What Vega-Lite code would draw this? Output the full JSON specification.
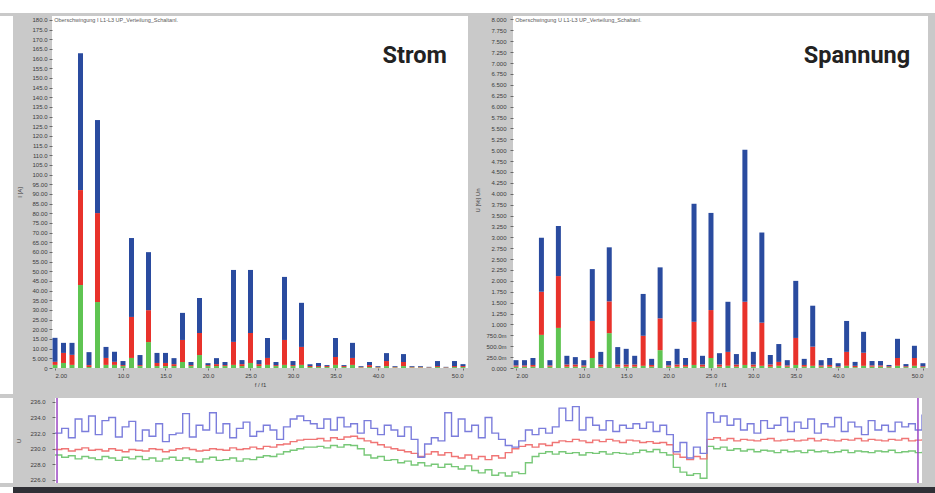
{
  "$schema": "https://vega.github.io/schema/vega-lite/v6.json",
  "background": "#c9c9c9",
  "padding": 0,
  "spacing": 3,
  "resolve": {"scale": {"color": "independent"}},
  "config": {
    "view": {"stroke": null},
    "axis": {
      "labelFont": "Liberation Sans",
      "titleFont": "Liberation Sans",
      "labelColor": "#3c3c3c",
      "titleColor": "#3c3c3c",
      "tickColor": "#6a6a6a",
      "domain": false,
      "grid": false,
      "labelOverlap": false,
      "titleFontWeight": "normal",
      "labelFontSize": 6,
      "titleFontSize": 6
    }
  },
  "datasets": {
    "strom": [
      {"h": 2, "L1": 1.6, "L2": 1.6, "L3": 12.4},
      {"h": 3, "L1": 2.6, "L2": 5.2, "L3": 5.2},
      {"h": 4, "L1": 1.6, "L2": 5.2, "L3": 6.2},
      {"h": 5, "L1": 42.9, "L2": 49.1, "L3": 70.8},
      {"h": 6, "L1": 0.5, "L2": 1.0, "L3": 6.7},
      {"h": 7, "L1": 34.1, "L2": 46.0, "L3": 48.1},
      {"h": 8, "L1": 1.6, "L2": 3.6, "L3": 5.7},
      {"h": 9, "L1": 1.6, "L2": 1.6, "L3": 5.2},
      {"h": 10, "L1": 1.0, "L2": 0.5, "L3": 2.1},
      {"h": 11, "L1": 5.2, "L2": 21.2, "L3": 40.8},
      {"h": 12, "L1": 1.0, "L2": 0.5, "L3": 5.2},
      {"h": 13, "L1": 13.4, "L2": 16.5, "L3": 30.0},
      {"h": 14, "L1": 1.0, "L2": 1.6, "L3": 5.2},
      {"h": 15, "L1": 1.0, "L2": 1.6, "L3": 5.2},
      {"h": 16, "L1": 1.0, "L2": 1.0, "L3": 3.1},
      {"h": 17, "L1": 3.1, "L2": 11.4, "L3": 14.0},
      {"h": 18, "L1": 1.0, "L2": 0.5, "L3": 1.6},
      {"h": 19, "L1": 6.7, "L2": 11.4, "L3": 18.1},
      {"h": 20, "L1": 1.0, "L2": 0.5, "L3": 1.0},
      {"h": 21, "L1": 1.0, "L2": 1.0, "L3": 3.1},
      {"h": 22, "L1": 1.0, "L2": 0.5, "L3": 1.6},
      {"h": 23, "L1": 1.6, "L2": 11.9, "L3": 37.2},
      {"h": 24, "L1": 1.0, "L2": 1.0, "L3": 2.1},
      {"h": 25, "L1": 2.6, "L2": 15.5, "L3": 32.6},
      {"h": 26, "L1": 1.0, "L2": 1.0, "L3": 2.1},
      {"h": 27, "L1": 1.6, "L2": 3.6, "L3": 10.3},
      {"h": 28, "L1": 1.0, "L2": 0.5, "L3": 1.6},
      {"h": 29, "L1": 1.6, "L2": 12.9, "L3": 32.6},
      {"h": 30, "L1": 1.0, "L2": 0.5, "L3": 2.1},
      {"h": 31, "L1": 1.6, "L2": 9.3, "L3": 22.8},
      {"h": 32, "L1": 0.5, "L2": 0.5, "L3": 1.0},
      {"h": 33, "L1": 0.5, "L2": 0.5, "L3": 1.6},
      {"h": 34, "L1": 0.5, "L2": 0.5, "L3": 0.5},
      {"h": 35, "L1": 1.6, "L2": 4.1, "L3": 9.8},
      {"h": 36, "L1": 0.5, "L2": 0.5, "L3": 0.5},
      {"h": 37, "L1": 1.6, "L2": 3.6, "L3": 7.8},
      {"h": 38, "L1": 0.3, "L2": 0.3, "L3": 0.4},
      {"h": 39, "L1": 0.5, "L2": 1.0, "L3": 1.6},
      {"h": 40, "L1": 0.3, "L2": 0.3, "L3": 0.4},
      {"h": 41, "L1": 1.0, "L2": 2.6, "L3": 4.1},
      {"h": 42, "L1": 0.3, "L2": 0.3, "L3": 0.4},
      {"h": 43, "L1": 1.0, "L2": 2.1, "L3": 4.1},
      {"h": 44, "L1": 0.3, "L2": 0.3, "L3": 0.4},
      {"h": 45, "L1": 0.3, "L2": 0.3, "L3": 0.4},
      {"h": 46, "L1": 0.2, "L2": 0.2, "L3": 0.2},
      {"h": 47, "L1": 0.5, "L2": 0.5, "L3": 2.6},
      {"h": 48, "L1": 0.2, "L2": 0.2, "L3": 0.2},
      {"h": 49, "L1": 0.5, "L2": 0.5, "L3": 2.6},
      {"h": 50, "L1": 0.5, "L2": 0.5, "L3": 1.0}
    ],
    "spannung": [
      {"h": 2, "L1": 0.03, "L2": 0.03, "L3": 0.12},
      {"h": 3, "L1": 0.03, "L2": 0.03, "L3": 0.12},
      {"h": 4, "L1": 0.03, "L2": 0.04, "L3": 0.16},
      {"h": 5, "L1": 0.76, "L2": 0.99, "L3": 1.24},
      {"h": 6, "L1": 0.03, "L2": 0.03, "L3": 0.12},
      {"h": 7, "L1": 0.92, "L2": 1.19, "L3": 1.15},
      {"h": 8, "L1": 0.03, "L2": 0.05, "L3": 0.20},
      {"h": 9, "L1": 0.03, "L2": 0.05, "L3": 0.17},
      {"h": 10, "L1": 0.03, "L2": 0.03, "L3": 0.12},
      {"h": 11, "L1": 0.23, "L2": 0.85, "L3": 1.19},
      {"h": 12, "L1": 0.03, "L2": 0.05, "L3": 0.29},
      {"h": 13, "L1": 0.80, "L2": 0.73, "L3": 1.24},
      {"h": 14, "L1": 0.03, "L2": 0.05, "L3": 0.40},
      {"h": 15, "L1": 0.03, "L2": 0.05, "L3": 0.36},
      {"h": 16, "L1": 0.03, "L2": 0.05, "L3": 0.20},
      {"h": 17, "L1": 0.05, "L2": 0.69, "L3": 0.96},
      {"h": 18, "L1": 0.03, "L2": 0.04, "L3": 0.14},
      {"h": 19, "L1": 0.41, "L2": 0.73, "L3": 1.17},
      {"h": 20, "L1": 0.03, "L2": 0.03, "L3": 0.10},
      {"h": 21, "L1": 0.03, "L2": 0.05, "L3": 0.36},
      {"h": 22, "L1": 0.03, "L2": 0.04, "L3": 0.16},
      {"h": 23, "L1": 0.07, "L2": 0.99, "L3": 2.71},
      {"h": 24, "L1": 0.03, "L2": 0.05, "L3": 0.20},
      {"h": 25, "L1": 0.23, "L2": 1.10, "L3": 2.23},
      {"h": 26, "L1": 0.03, "L2": 0.05, "L3": 0.26},
      {"h": 27, "L1": 0.05, "L2": 0.32, "L3": 1.15},
      {"h": 28, "L1": 0.03, "L2": 0.05, "L3": 0.24},
      {"h": 29, "L1": 0.07, "L2": 1.45, "L3": 3.49},
      {"h": 30, "L1": 0.03, "L2": 0.05, "L3": 0.29},
      {"h": 31, "L1": 0.05, "L2": 0.99, "L3": 2.07},
      {"h": 32, "L1": 0.03, "L2": 0.05, "L3": 0.22},
      {"h": 33, "L1": 0.05, "L2": 0.09, "L3": 0.41},
      {"h": 34, "L1": 0.03, "L2": 0.03, "L3": 0.12},
      {"h": 35, "L1": 0.07, "L2": 0.62, "L3": 1.31},
      {"h": 36, "L1": 0.03, "L2": 0.04, "L3": 0.14},
      {"h": 37, "L1": 0.05, "L2": 0.44, "L3": 0.94},
      {"h": 38, "L1": 0.03, "L2": 0.03, "L3": 0.12},
      {"h": 39, "L1": 0.03, "L2": 0.04, "L3": 0.16},
      {"h": 40, "L1": 0.02, "L2": 0.02, "L3": 0.07},
      {"h": 41, "L1": 0.05, "L2": 0.32, "L3": 0.71},
      {"h": 42, "L1": 0.02, "L2": 0.03, "L3": 0.09},
      {"h": 43, "L1": 0.05, "L2": 0.30, "L3": 0.48},
      {"h": 44, "L1": 0.03, "L2": 0.03, "L3": 0.10},
      {"h": 45, "L1": 0.03, "L2": 0.03, "L3": 0.10},
      {"h": 46, "L1": 0.02, "L2": 0.02, "L3": 0.03},
      {"h": 47, "L1": 0.05, "L2": 0.18, "L3": 0.44},
      {"h": 48, "L1": 0.02, "L2": 0.02, "L3": 0.05},
      {"h": 49, "L1": 0.05, "L2": 0.18, "L3": 0.28},
      {"h": 50, "L1": 0.02, "L2": 0.02, "L3": 0.07}
    ],
    "netz": [
      {"t": 0, "L1": 229.2, "L2": 229.9, "L3": 232.0},
      {"t": 1, "L1": 228.9, "L2": 230.0, "L3": 232.6},
      {"t": 2, "L1": 229.1, "L2": 229.7, "L3": 231.4},
      {"t": 3, "L1": 228.7, "L2": 229.9, "L3": 233.8},
      {"t": 4, "L1": 229.0, "L2": 230.1, "L3": 232.2},
      {"t": 5, "L1": 228.8, "L2": 229.8, "L3": 234.2},
      {"t": 6, "L1": 228.6, "L2": 229.9, "L3": 231.8},
      {"t": 7, "L1": 229.0, "L2": 229.7, "L3": 233.6},
      {"t": 8, "L1": 228.8, "L2": 230.0, "L3": 234.0},
      {"t": 9, "L1": 228.5, "L2": 229.8, "L3": 231.5},
      {"t": 10, "L1": 228.9, "L2": 229.6, "L3": 232.8},
      {"t": 11, "L1": 228.7, "L2": 229.9, "L3": 233.5},
      {"t": 12, "L1": 229.0, "L2": 229.8, "L3": 231.0},
      {"t": 13, "L1": 228.6, "L2": 229.7, "L3": 232.4},
      {"t": 14, "L1": 228.8, "L2": 230.0, "L3": 231.6},
      {"t": 15, "L1": 228.4, "L2": 229.9, "L3": 233.2},
      {"t": 16, "L1": 228.7, "L2": 229.6, "L3": 230.9},
      {"t": 17, "L1": 228.9, "L2": 229.8, "L3": 231.8},
      {"t": 18, "L1": 228.5, "L2": 230.0, "L3": 232.0},
      {"t": 19, "L1": 228.8, "L2": 230.1, "L3": 234.5},
      {"t": 20, "L1": 228.6, "L2": 229.9, "L3": 231.5},
      {"t": 21, "L1": 228.3, "L2": 229.7, "L3": 233.0},
      {"t": 22, "L1": 228.7, "L2": 229.8, "L3": 232.4},
      {"t": 23, "L1": 228.9, "L2": 230.0, "L3": 234.6},
      {"t": 24, "L1": 228.5, "L2": 229.9, "L3": 232.0},
      {"t": 25, "L1": 228.6, "L2": 229.8, "L3": 233.2},
      {"t": 26, "L1": 228.8, "L2": 230.1, "L3": 231.4},
      {"t": 27, "L1": 228.4, "L2": 229.9, "L3": 232.6},
      {"t": 28, "L1": 228.7, "L2": 230.0, "L3": 233.4},
      {"t": 29, "L1": 228.6, "L2": 230.2, "L3": 231.6},
      {"t": 30, "L1": 228.9, "L2": 230.0, "L3": 232.2},
      {"t": 31, "L1": 229.1, "L2": 230.3, "L3": 233.0},
      {"t": 32, "L1": 229.0, "L2": 230.2, "L3": 232.4},
      {"t": 33, "L1": 229.3, "L2": 230.5, "L3": 231.2},
      {"t": 34, "L1": 229.6, "L2": 230.6, "L3": 232.8},
      {"t": 35, "L1": 229.8, "L2": 230.9, "L3": 233.8},
      {"t": 36, "L1": 230.0, "L2": 231.1, "L3": 234.2},
      {"t": 37, "L1": 230.2, "L2": 231.2, "L3": 233.6},
      {"t": 38, "L1": 230.2, "L2": 231.2, "L3": 233.2},
      {"t": 39, "L1": 230.3, "L2": 231.3, "L3": 232.6},
      {"t": 40, "L1": 230.1, "L2": 231.0, "L3": 233.8},
      {"t": 41, "L1": 230.4, "L2": 231.4, "L3": 232.4},
      {"t": 42, "L1": 230.2, "L2": 231.2, "L3": 234.0},
      {"t": 43, "L1": 230.5, "L2": 231.5, "L3": 232.8},
      {"t": 44, "L1": 230.4, "L2": 231.6, "L3": 233.2},
      {"t": 45, "L1": 230.0, "L2": 231.3, "L3": 232.0},
      {"t": 46, "L1": 229.2, "L2": 231.0, "L3": 233.6},
      {"t": 47, "L1": 228.8, "L2": 230.8, "L3": 232.6},
      {"t": 48, "L1": 229.0, "L2": 230.5, "L3": 231.8},
      {"t": 49, "L1": 228.5, "L2": 230.2, "L3": 233.0},
      {"t": 50, "L1": 228.6, "L2": 230.0, "L3": 232.4},
      {"t": 51, "L1": 228.2, "L2": 229.8, "L3": 231.6},
      {"t": 52, "L1": 228.4, "L2": 229.6, "L3": 232.8},
      {"t": 53, "L1": 227.9, "L2": 229.4, "L3": 231.2},
      {"t": 54, "L1": 228.2, "L2": 229.0, "L3": 228.9},
      {"t": 55, "L1": 227.8, "L2": 229.3, "L3": 230.6},
      {"t": 56, "L1": 228.0, "L2": 229.6, "L3": 231.4},
      {"t": 57, "L1": 227.6, "L2": 229.2, "L3": 231.0},
      {"t": 58, "L1": 228.0, "L2": 229.5, "L3": 234.6},
      {"t": 59, "L1": 227.7, "L2": 229.0, "L3": 231.6},
      {"t": 60, "L1": 227.4, "L2": 228.8, "L3": 233.8},
      {"t": 61, "L1": 227.8, "L2": 229.2, "L3": 232.2},
      {"t": 62, "L1": 227.2, "L2": 228.7, "L3": 233.0},
      {"t": 63, "L1": 226.9, "L2": 229.0, "L3": 231.4},
      {"t": 64, "L1": 227.3, "L2": 228.6, "L3": 234.0},
      {"t": 65, "L1": 226.6, "L2": 229.1, "L3": 232.0},
      {"t": 66, "L1": 226.9, "L2": 228.8, "L3": 231.2},
      {"t": 67, "L1": 226.5, "L2": 229.5, "L3": 230.4},
      {"t": 68, "L1": 227.0, "L2": 230.0, "L3": 230.2},
      {"t": 69, "L1": 226.8, "L2": 230.3, "L3": 231.0},
      {"t": 70, "L1": 228.2, "L2": 230.5, "L3": 232.4},
      {"t": 71, "L1": 229.0, "L2": 230.2, "L3": 231.8},
      {"t": 72, "L1": 229.4, "L2": 230.6, "L3": 232.6},
      {"t": 73, "L1": 229.6, "L2": 230.4, "L3": 232.0},
      {"t": 74, "L1": 229.3, "L2": 230.8, "L3": 232.8},
      {"t": 75, "L1": 229.6, "L2": 231.0, "L3": 235.2},
      {"t": 76, "L1": 229.4, "L2": 230.9, "L3": 233.6},
      {"t": 77, "L1": 229.5, "L2": 231.2, "L3": 235.4},
      {"t": 78, "L1": 229.2, "L2": 231.0, "L3": 232.4},
      {"t": 79, "L1": 229.5, "L2": 230.8, "L3": 234.0},
      {"t": 80, "L1": 229.4, "L2": 231.1, "L3": 233.0},
      {"t": 81, "L1": 229.6, "L2": 230.9, "L3": 232.4},
      {"t": 82, "L1": 229.3, "L2": 231.2, "L3": 233.6},
      {"t": 83, "L1": 229.5, "L2": 231.0, "L3": 232.2},
      {"t": 84, "L1": 229.4, "L2": 230.8, "L3": 233.0},
      {"t": 85, "L1": 229.3, "L2": 231.1, "L3": 232.6},
      {"t": 86, "L1": 229.5, "L2": 231.0, "L3": 233.2},
      {"t": 87, "L1": 229.8, "L2": 230.8, "L3": 232.6},
      {"t": 88, "L1": 229.6, "L2": 230.9, "L3": 233.4},
      {"t": 89, "L1": 229.9, "L2": 230.7, "L3": 232.2},
      {"t": 90, "L1": 229.5, "L2": 230.8, "L3": 233.0},
      {"t": 91, "L1": 229.2, "L2": 230.5, "L3": 231.8},
      {"t": 92, "L1": 227.6, "L2": 229.3, "L3": 229.6},
      {"t": 93, "L1": 227.0, "L2": 228.9, "L3": 230.8},
      {"t": 94, "L1": 226.6, "L2": 228.6, "L3": 228.8},
      {"t": 95, "L1": 226.8, "L2": 229.0, "L3": 230.2},
      {"t": 96, "L1": 226.2, "L2": 228.7, "L3": 229.4},
      {"t": 97, "L1": 230.3, "L2": 231.2, "L3": 234.6},
      {"t": 98, "L1": 230.0, "L2": 231.4, "L3": 233.4},
      {"t": 99, "L1": 230.2, "L2": 231.1, "L3": 234.2},
      {"t": 100, "L1": 229.8, "L2": 231.3, "L3": 233.0},
      {"t": 101, "L1": 230.0, "L2": 231.0, "L3": 233.8},
      {"t": 102, "L1": 229.7, "L2": 231.2, "L3": 232.4},
      {"t": 103, "L1": 229.9, "L2": 231.1, "L3": 233.2},
      {"t": 104, "L1": 229.6, "L2": 231.0, "L3": 232.0},
      {"t": 105, "L1": 229.8, "L2": 231.2, "L3": 233.6},
      {"t": 106, "L1": 229.7, "L2": 231.3, "L3": 232.6},
      {"t": 107, "L1": 229.5, "L2": 231.0, "L3": 233.0},
      {"t": 108, "L1": 229.8, "L2": 231.1, "L3": 234.0},
      {"t": 109, "L1": 229.6, "L2": 231.2, "L3": 232.2},
      {"t": 110, "L1": 229.7, "L2": 231.0, "L3": 233.4},
      {"t": 111, "L1": 229.5, "L2": 231.1, "L3": 232.6},
      {"t": 112, "L1": 229.8, "L2": 231.3, "L3": 233.8},
      {"t": 113, "L1": 229.6, "L2": 231.0, "L3": 232.0},
      {"t": 114, "L1": 229.7, "L2": 231.2, "L3": 233.2},
      {"t": 115, "L1": 229.5, "L2": 231.1, "L3": 232.8},
      {"t": 116, "L1": 229.6, "L2": 231.0, "L3": 234.0},
      {"t": 117, "L1": 229.8, "L2": 231.2, "L3": 232.2},
      {"t": 118, "L1": 229.5, "L2": 231.1, "L3": 233.4},
      {"t": 119, "L1": 229.7, "L2": 231.3, "L3": 232.8},
      {"t": 120, "L1": 229.6, "L2": 231.0, "L3": 231.8},
      {"t": 121, "L1": 229.5, "L2": 231.2, "L3": 233.6},
      {"t": 122, "L1": 229.7, "L2": 231.1, "L3": 232.4},
      {"t": 123, "L1": 229.6, "L2": 231.0, "L3": 233.0},
      {"t": 124, "L1": 229.8, "L2": 231.2, "L3": 232.2},
      {"t": 125, "L1": 229.5, "L2": 231.1, "L3": 233.4},
      {"t": 126, "L1": 229.6, "L2": 231.3, "L3": 232.8},
      {"t": 127, "L1": 229.7, "L2": 231.0, "L3": 233.2},
      {"t": 128, "L1": 229.5, "L2": 231.1, "L3": 232.4},
      {"t": 129, "L1": 229.6, "L2": 231.2, "L3": 234.4}
    ]
  },
  "vconcat": [
    {
      "width": 935, "height": 13,
      "view": {"fill": "white"},
      "data": {"values": []},
      "mark": "rect",
      "encoding": {}
    },
    {
      "spacing": 0,
      "hconcat": [
        {
          "width": 13, "height": 378,
          "view": {"fill": "white"},
          "data": {"values": []},
          "mark": "rect",
          "encoding": {}
        },
        {
          "width": 416, "height": 352,
          "view": {"fill": "white"},
          "layer": [
            {
              "data": {"name": "strom"},
              "transform": [{"fold": ["L1", "L2", "L3"], "as": ["phase", "wert"]}],
              "mark": {"type": "bar", "size": 5, "clip": true},
              "encoding": {
                "x": {
                  "field": "h", "type": "quantitative",
                  "scale": {"domain": [1.647, 50.59], "nice": false, "zero": false, "padding": 0},
                  "axis": {
                    "values": [2, 10, 15, 20, 25, 30, 35, 40, 50],
                    "tickCount": 100,
                    "format": ".3r", "tickSize": 2, "labelPadding": 2, "labelFlush": 8,
                    "labelOverlap": false,
                    "minExtent": 26, "maxExtent": 26,
                    "title": "f / f1", "titleY": 13
                  }
                },
                "y": {
                  "field": "wert", "type": "quantitative", "stack": "zero",
                  "scale": {"domain": [0, 182], "nice": false},
                  "axis": {
                    "values": [0, 5, 10, 15, 20, 25, 30, 35, 40, 45, 50, 55, 60, 65, 70, 75, 80, 85, 90, 95, 100, 105, 110, 115, 120, 125, 130, 135, 140, 145, 150, 155, 160, 165, 170, 175, 180],
                    "tickCount": 100,
                    "format": ".4r", "tickSize": 3, "labelPadding": 2,
                    "labelOverlap": false,
                    "minExtent": 39, "maxExtent": 39,
                    "title": "I [A]", "titleX": -30
                  }
                },
                "color": {
                  "field": "phase", "type": "nominal",
                  "scale": {"domain": ["L1", "L2", "L3"], "range": ["#5fc452", "#e8322b", "#2a4b9f"]},
                  "legend": null
                },
                "order": {"field": "phase", "sort": "ascending"}
              }
            },
            {
              "data": {"values": [{}]},
              "mark": {"type": "text", "align": "left", "baseline": "middle", "fontSize": 5.5, "font": "Liberation Sans", "color": "#5a5a5a"},
              "encoding": {
                "x": {"datum": 1.9},
                "y": {"datum": 180},
                "text": {"value": "Oberschwingung I L1-L3    UP_Verteilung_Schaltanl."}
              }
            },
            {
              "data": {"values": [{}]},
              "mark": {"type": "text", "align": "right", "baseline": "alphabetic", "fontSize": 23.5, "fontWeight": "bold", "font": "Roboto", "color": "#222222"},
              "encoding": {
                "x": {"datum": 48.1},
                "y": {"datum": 157.7},
                "text": {"value": "Strom"}
              }
            }
          ]
        },
        {
          "width": 415, "height": 352,
          "view": {"fill": "white"},
          "layer": [
            {
              "data": {"name": "spannung"},
              "transform": [{"fold": ["L1", "L2", "L3"], "as": ["phase", "wert"]}],
              "mark": {"type": "bar", "size": 5, "clip": true},
              "encoding": {
                "x": {
                  "field": "h", "type": "quantitative",
                  "scale": {"domain": [1.646, 50.6], "nice": false, "zero": false, "padding": 0},
                  "axis": {
                    "values": [2, 10, 15, 20, 25, 30, 35, 40, 50],
                    "tickCount": 100,
                    "format": ".3r", "tickSize": 2, "labelPadding": 2, "labelFlush": 8,
                    "labelOverlap": false,
                    "minExtent": 26, "maxExtent": 26,
                    "title": "f / f1", "titleY": 13
                  }
                },
                "y": {
                  "field": "wert", "type": "quantitative", "stack": "zero",
                  "scale": {"domain": [0, 8.08], "nice": false},
                  "axis": {
                    "values": [0, 0.25, 0.5, 0.75, 1, 1.25, 1.5, 1.75, 2, 2.25, 2.5, 2.75, 3, 3.25, 3.5, 3.75, 4, 4.25, 4.5, 4.75, 5, 5.25, 5.5, 5.75, 6, 6.25, 6.5, 6.75, 7, 7.25, 7.5, 7.75, 8],
                    "tickCount": 100,
                    "format": ".4s", "tickSize": 3, "labelPadding": 4,
                    "labelOverlap": false,
                    "minExtent": 45, "maxExtent": 45,
                    "title": "U [%] Un", "titleX": -33, "titleY": 184
                  }
                },
                "color": {
                  "field": "phase", "type": "nominal",
                  "scale": {"domain": ["L1", "L2", "L3"], "range": ["#5fc452", "#e8322b", "#2a4b9f"]},
                  "legend": null
                },
                "order": {"field": "phase", "sort": "ascending"}
              }
            },
            {
              "data": {"values": [{}]},
              "mark": {"type": "text", "align": "left", "baseline": "middle", "fontSize": 5.5, "font": "Liberation Sans", "color": "#5a5a5a"},
              "encoding": {
                "x": {"datum": 1.9},
                "y": {"datum": 7.99},
                "text": {"value": "Oberschwingung U L1-L3    UP_Verteilung_Schaltanl."}
              }
            },
            {
              "data": {"values": [{}]},
              "mark": {"type": "text", "align": "right", "baseline": "alphabetic", "fontSize": 23.5, "fontWeight": "bold", "font": "Roboto", "color": "#222222"},
              "encoding": {
                "x": {"datum": 48.5},
                "y": {"datum": 7.0},
                "text": {"value": "Spannung"}
              }
            }
          ]
        }
      ]
    },
    {
      "spacing": 0,
      "hconcat": [
        {
          "width": 13, "height": 85,
          "view": {"fill": "white"},
          "data": {"values": []},
          "mark": "rect",
          "encoding": {}
        },
        {
          "width": 867, "height": 85,
          "view": {"fill": "white"},
          "layer": [
            {
              "data": {"name": "netz"},
              "transform": [{"fold": ["L1", "L2", "L3"], "as": ["phase", "u"]}],
              "mark": {"type": "line", "strokeWidth": 1.4, "interpolate": "step-after", "clip": true},
              "encoding": {
                "x": {
                  "field": "t", "type": "quantitative",
                  "scale": {"domain": [0, 129], "nice": false, "zero": false},
                  "axis": null
                },
                "y": {
                  "field": "u", "type": "quantitative",
                  "scale": {"domain": [225.6, 236.5], "nice": false, "zero": false},
                  "axis": {
                    "values": [226, 228, 230, 232, 234, 236],
                    "tickCount": 100,
                    "format": ".4r", "tickSize": 3, "labelPadding": 7,
                    "labelOverlap": false,
                    "minExtent": 42, "maxExtent": 42,
                    "title": "U", "titleX": -34
                  }
                },
                "color": {
                  "field": "phase", "type": "nominal",
                  "scale": {"domain": ["L1", "L2", "L3"], "range": ["#78c878", "#f07575", "#7b7ddc"]},
                  "legend": null
                }
              }
            },
            {
              "data": {"values": [{"t": 0.3}, {"t": 128.4}]},
              "mark": {"type": "rule", "color": "#9b45c4", "strokeWidth": 1.5},
              "encoding": {"x": {"field": "t", "type": "quantitative"}}
            }
          ]
        }
      ]
    },
    {
      "spacing": 0,
      "hconcat": [
        {
          "width": 13, "height": 8,
          "view": {"fill": "white"},
          "data": {"values": []},
          "mark": "rect",
          "encoding": {}
        },
        {
          "width": 922, "height": 8,
          "view": {"fill": "#303036"},
          "data": {"values": []},
          "mark": "rect",
          "encoding": {}
        }
      ]
    }
  ]
}
